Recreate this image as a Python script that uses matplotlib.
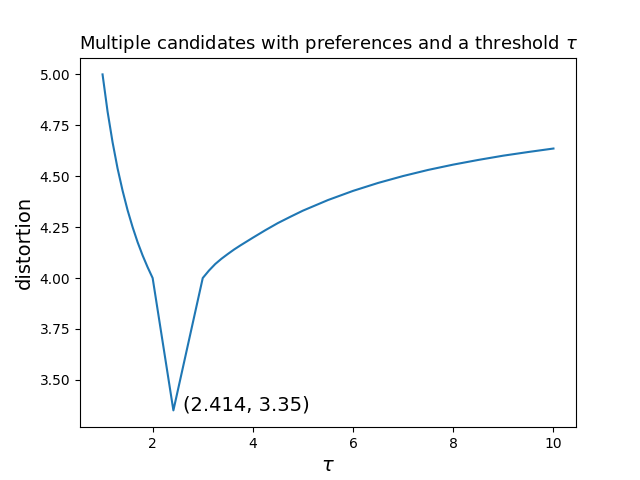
import matplotlib
matplotlib.use("Agg")
import matplotlib.pyplot as plt

tau = [1.0, 1.1, 1.2, 1.3, 1.4, 1.5, 1.6, 1.7, 1.8, 1.9, 2.0,
       2.414,
       3.0, 3.125, 3.25, 3.375, 3.5, 3.625, 3.75, 4.0, 4.25, 4.5, 4.75, 5.0, 5.5, 6.0,
       6.5, 7.0, 7.5, 8.0, 8.5, 9.0, 9.5, 10.0]
distortion = [5.0, 4.818, 4.667, 4.538, 4.429, 4.333, 4.25, 4.176, 4.111, 4.053, 4.0,
              3.35,
              4.0, 4.037, 4.069, 4.095, 4.118, 4.140, 4.160, 4.198, 4.235, 4.270, 4.301,
              4.331, 4.383, 4.428, 4.467, 4.501, 4.531, 4.557, 4.580, 4.601, 4.619, 4.636]
min_tau = 2.414
min_val = 3.35

fig, ax = plt.subplots(figsize=(6.4, 4.8), dpi=100)
ax.plot(tau, distortion)
ax.annotate(f"({min_tau}, {min_val})", xy=(min_tau + 0.2, min_val), fontsize=14)
ax.set_title(r"Multiple candidates with preferences and a threshold $\tau$", fontsize=13)
ax.set_xlabel(r"$\tau$", fontsize=14)
ax.set_ylabel("distortion", fontsize=14)
fig.savefig("out.png")
